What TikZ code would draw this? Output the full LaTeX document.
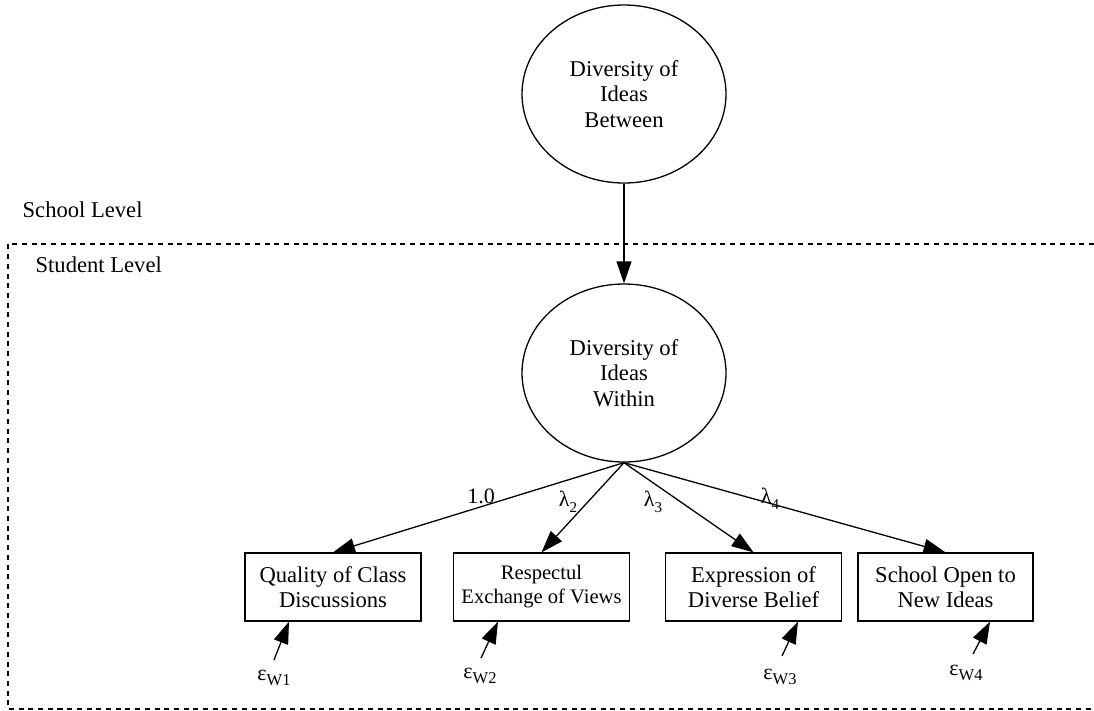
\documentclass[tikz,border=0pt]{standalone}
\usepackage{fontspec}
\setmainfont{Liberation Serif}
\usetikzlibrary{arrows.meta,shapes.geometric}
\newcommand{\lowsub}[2]{\raisebox{-#1}{\fontsize{15}{15}\selectfont #2}}
\begin{document}
\begin{tikzpicture}[x=1pt,y=-1pt,
  line width=1.3pt,
  latent/.style={draw, ellipse, minimum width=204pt, minimum height=178pt,
    inner sep=0pt, align=center, font=\fontsize{22.6}{25.5}\selectfont},
  indicator/.style={draw, rectangle, minimum width=176pt, minimum height=68pt,
    inner sep=0pt, align=center, font=\fontsize{22.6}{25}\selectfont},
  link/.style={-{Triangle[length=22pt,width=15pt]}},
  weight/.style={inner sep=0pt, font=\fontsize{22}{24}\selectfont},
  errlbl/.style={inner sep=0pt, font=\fontsize{22}{24}\selectfont},
  levellbl/.style={inner sep=0pt, anchor=base west, font=\fontsize{22.6}{25}\selectfont},
  levelbox/.style={line width=1.2pt, dash pattern=on 5pt off 4.7pt}
]
\useasboundingbox (0,0) rectangle (1094,710);

% level labels and the student-level frame (open on the right)
\node[levellbl] (school) at (22,217) {School Level};
\node[levellbl] (student) at (35,272) {Student Level};
\draw[levelbox] (1094,244) -- (8,244) -- (8,709) -- (1094,709);

% latent factors
\node[latent] (between) at (624,94) {Diversity of\\Ideas\\Between};
\node[latent] (within) at (624,373) {Diversity of\\Ideas\\Within};

% observed indicators
\node[indicator] (q1) at (333,587) {Quality of Class\\Discussions};
\node[indicator, font=\fontsize{20.6}{24}\selectfont] (q2) at (541.5,587) {Respectul\\Exchange of Views};
\node[indicator] (q3) at (753.5,587) {Expression of\\Diverse Belief};
\node[indicator, minimum width=175pt] (q4) at (945.5,587) {School Open to\\New Ideas};

% between -> within
\draw[link] (between) -- (within);

% factor loadings
\draw[link] (within.south) -- (q1.north);
\draw[link] (within.south) -- (q2.north);
\draw[link] (within.south) -- (q3.north);
\draw[link] (within.south) -- (q4.north);

\node[weight] (w1) at (481,496) {1.0};
\node[weight] (w2) at (568,502) {λ\lowsub{6pt}{2}};
\node[weight] (w3) at (653,502) {λ\lowsub{6pt}{3}};
\node[weight] (w4) at (770,499) {λ\lowsub{6pt}{4}};

% residual errors
\node[errlbl] (e1) at (274,678) {ε\raisebox{-5pt}{\fontsize{16.5}{16.5}\selectfont W1}};
\node[errlbl] (e2) at (480,676) {ε\raisebox{-5pt}{\fontsize{16.5}{16.5}\selectfont W2}};
\node[errlbl] (e3) at (780,677) {ε\raisebox{-5pt}{\fontsize{16.5}{16.5}\selectfont W3}};
\node[errlbl] (e4) at (966,673) {ε\raisebox{-5pt}{\fontsize{16.5}{16.5}\selectfont W4}};

\coordinate (t1) at (274,660);
\coordinate (t2) at (481,658);
\coordinate (t3) at (782,656);
\coordinate (t4) at (973,654);

\draw[link] (t1) -- ([xshift=-44pt]q1.south);
\draw[link] (t2) -- ([xshift=-43.5pt]q2.south);
\draw[link] (t3) -- ([xshift=44.5pt]q3.south);
\draw[link] (t4) -- ([xshift=44.5pt]q4.south);
\end{tikzpicture}
\end{document}
